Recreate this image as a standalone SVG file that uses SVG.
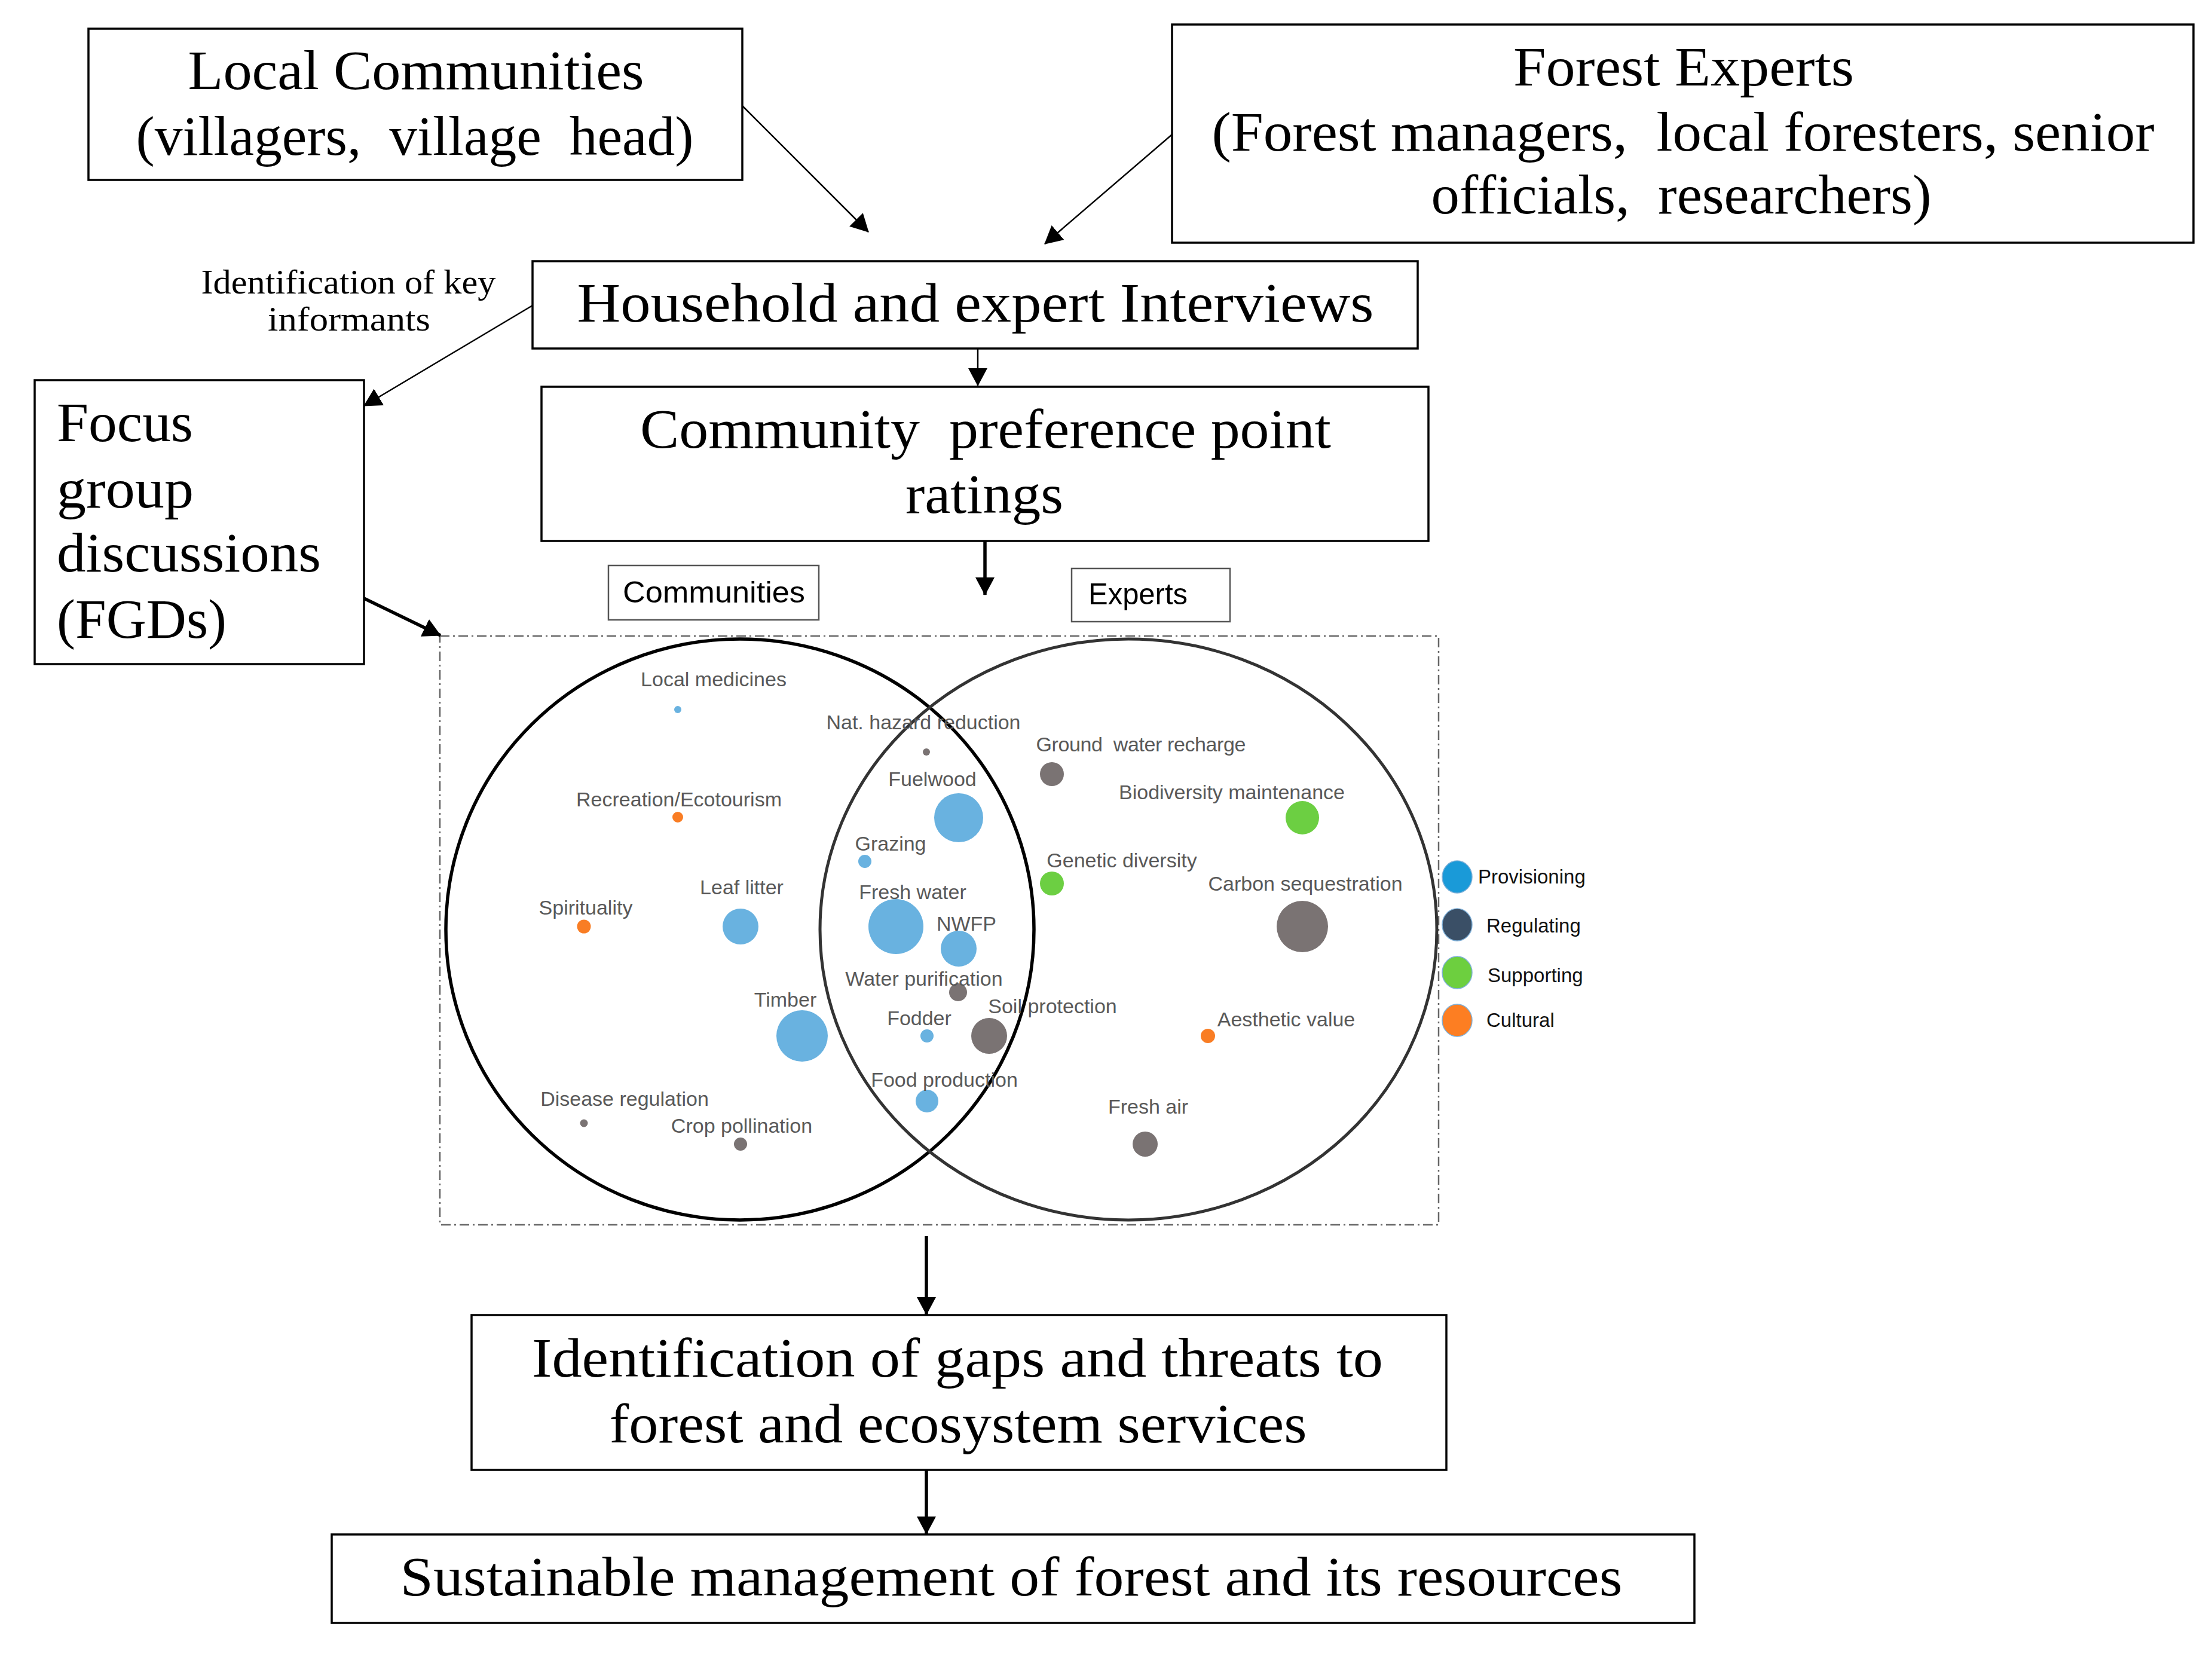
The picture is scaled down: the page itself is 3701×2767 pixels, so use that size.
<svg xmlns="http://www.w3.org/2000/svg" width="3701" height="2767" viewBox="0 0 3701 2767">
<defs>
<style>
.box{fill:#fff;stroke:#000;stroke-width:3.5}
.tag{fill:#fff;stroke:#555;stroke-width:2.5}
.t{font-family:"Liberation Serif",serif;font-size:94px;fill:#000;text-anchor:middle}
.tl{font-family:"Liberation Serif",serif;font-size:94px;fill:#000}
.ts{font-family:"Liberation Serif",serif;font-size:56px;fill:#000;text-anchor:middle}
.s{font-family:"Liberation Sans",Arial,sans-serif;font-size:50px;fill:#000}
.lb{font-family:"Liberation Sans",Arial,sans-serif;font-size:34px;fill:#595959;text-anchor:middle}
.lg{font-family:"Liberation Sans",Arial,sans-serif;font-size:33px;fill:#111}
.con{fill:none;stroke:#000;stroke-width:2.5}
.thick{fill:none;stroke:#000;stroke-width:5.5}
.blue{fill:#69b2e0}
.gray{fill:#7a7373}
.green{fill:#6ccf42}
.orange{fill:#f97d24}
</style>
<marker id="ah" viewBox="0 0 30 32" refX="29" refY="16" markerWidth="30" markerHeight="32" markerUnits="userSpaceOnUse" orient="auto">
<path d="M0,0 L30,16 L0,32 z" fill="#000"/>
</marker>
</defs>
<rect width="3701" height="2767" fill="#fff"/>

<g id="local-communities">
<rect class="box" x="148" y="48" width="1094" height="253"/>
<text class="t" x="696" y="149" textLength="763" lengthAdjust="spacingAndGlyphs">Local Communities</text>
<text class="t" x="694" y="259" textLength="933" lengthAdjust="spacingAndGlyphs">(villagers,&#160; village&#160; head)</text>
</g>

<g id="forest-experts">
<rect class="box" x="1961" y="41" width="1709" height="365"/>
<text class="t" x="2817" y="143" textLength="570" lengthAdjust="spacingAndGlyphs">Forest Experts</text>
<text class="t" x="2816" y="252" textLength="1577" lengthAdjust="spacingAndGlyphs">(Forest managers,&#160; local foresters, senior</text>
<text class="t" x="2813" y="357" textLength="837" lengthAdjust="spacingAndGlyphs">officials,&#160; researchers)</text>
</g>

<g id="household-interviews">
<rect class="box" x="891" y="437" width="1481" height="146"/>
<text class="t" x="1632" y="538" textLength="1333" lengthAdjust="spacingAndGlyphs">Household and expert Interviews</text>
</g>

<g id="key-informants-label">
<text class="ts" x="583" y="491" textLength="493" lengthAdjust="spacingAndGlyphs">Identification of key</text>
<text class="ts" x="584" y="553" textLength="272" lengthAdjust="spacingAndGlyphs">informants</text>
</g>

<g id="focus-groups">
<rect class="box" x="58" y="636" width="551" height="475"/>
<text class="tl" x="95" y="738" textLength="228" lengthAdjust="spacingAndGlyphs">Focus</text>
<text class="tl" x="95" y="849" textLength="229" lengthAdjust="spacingAndGlyphs">group</text>
<text class="tl" x="95" y="956" textLength="442" lengthAdjust="spacingAndGlyphs">discussions</text>
<text class="tl" x="95" y="1067" textLength="284" lengthAdjust="spacingAndGlyphs">(FGDs)</text>
</g>

<g id="community-preference">
<rect class="box" x="906" y="647" width="1484" height="258"/>
<text class="t" x="1649" y="749" textLength="1156" lengthAdjust="spacingAndGlyphs">Community&#160; preference point</text>
<text class="t" x="1647" y="858" textLength="264" lengthAdjust="spacingAndGlyphs">ratings</text>
</g>

<g id="communities-tag">
<rect class="tag" x="1018" y="946" width="352" height="91"/>
<text class="s" x="1042" y="1008" textLength="305" lengthAdjust="spacingAndGlyphs">Communities</text>
</g>

<g id="experts-tag">
<rect class="tag" x="1793" y="951" width="265" height="89"/>
<text class="s" x="1821" y="1011" textLength="166" lengthAdjust="spacingAndGlyphs">Experts</text>
</g>

<g id="venn">
<rect x="736" y="1064" width="1671" height="985" fill="none" stroke="#666" stroke-width="2.5" stroke-dasharray="16 6 3 6"/>
<ellipse cx="1238" cy="1555" rx="492" ry="486" fill="none" stroke="#000" stroke-width="5.5"/>
<ellipse cx="1888" cy="1555" rx="516" ry="486" fill="none" stroke="#333" stroke-width="5"/>
</g>

<g id="bubbles">
<g id="b-local-medicines"><circle class="blue" cx="1134" cy="1187" r="6"/><text class="lb" x="1194" y="1148">Local medicines</text></g>
<g id="b-nat-hazard"><circle class="gray" cx="1550" cy="1258" r="6"/><text class="lb" x="1545" y="1220">Nat. hazard reduction</text></g>
<g id="b-recreation"><circle class="orange" cx="1134" cy="1367" r="9"/><text class="lb" x="1136" y="1349">Recreation/Ecotourism</text></g>
<g id="b-fuelwood"><circle class="blue" cx="1604" cy="1368" r="41"/><text class="lb" x="1560" y="1315">Fuelwood</text></g>
<g id="b-grazing"><circle class="blue" cx="1447" cy="1441" r="11"/><text class="lb" x="1490" y="1423">Grazing</text></g>
<g id="b-leaf-litter"><circle class="blue" cx="1239" cy="1550" r="30"/><text class="lb" x="1241" y="1496">Leaf litter</text></g>
<g id="b-spirituality"><circle class="orange" cx="977" cy="1550" r="11.5"/><text class="lb" x="980" y="1530">Spirituality</text></g>
<g id="b-fresh-water"><circle class="blue" cx="1499" cy="1550" r="46"/><text class="lb" x="1527" y="1504">Fresh water</text></g>
<g id="b-nwfp"><circle class="blue" cx="1604" cy="1587" r="30"/><text class="lb" x="1617" y="1557">NWFP</text></g>
<g id="b-water-purification"><circle class="gray" cx="1603" cy="1660" r="15"/><text class="lb" x="1546" y="1649">Water purification</text></g>
<g id="b-timber"><circle class="blue" cx="1342" cy="1733" r="43"/><text class="lb" x="1314" y="1684">Timber</text></g>
<g id="b-fodder"><circle class="blue" cx="1551" cy="1733" r="11"/><text class="lb" x="1538" y="1715">Fodder</text></g>
<g id="b-soil-protection"><circle class="gray" cx="1655" cy="1733" r="30"/><text class="lb" x="1761" y="1695">Soil protection</text></g>
<g id="b-food-production"><circle class="blue" cx="1551" cy="1842" r="19"/><text class="lb" x="1580" y="1818">Food production</text></g>
<g id="b-disease-regulation"><circle class="gray" cx="977" cy="1879" r="6.5"/><text class="lb" x="1045" y="1850">Disease regulation</text></g>
<g id="b-crop-pollination"><circle class="gray" cx="1239" cy="1914" r="11"/><text class="lb" x="1241" y="1895">Crop pollination</text></g>
<g id="b-ground-water"><circle class="gray" cx="1760" cy="1295" r="20"/><text class="lb" x="1909" y="1257" textLength="351" lengthAdjust="spacing">Ground&#160; water recharge</text></g>
<g id="b-biodiversity"><circle class="green" cx="2179" cy="1368" r="28"/><text class="lb" x="2061" y="1337">Biodiversity maintenance</text></g>
<g id="b-genetic-diversity"><circle class="green" cx="1760" cy="1478" r="20"/><text class="lb" x="1877" y="1451">Genetic diversity</text></g>
<g id="b-carbon"><circle class="gray" cx="2179" cy="1550" r="43"/><text class="lb" x="2184" y="1490">Carbon sequestration</text></g>
<g id="b-aesthetic"><circle class="orange" cx="2021" cy="1733" r="12"/><text class="lb" x="2152" y="1717">Aesthetic value</text></g>
<g id="b-fresh-air"><circle class="gray" cx="1916" cy="1914" r="21"/><text class="lb" x="1921" y="1863">Fresh air</text></g>
</g>

<g id="legend">
<ellipse cx="2438" cy="1467" rx="25" ry="27" fill="#1a9ad8" stroke="#7fb0d8" stroke-width="1.5"/>
<text class="lg" x="2473" y="1478">Provisioning</text>
<ellipse cx="2438" cy="1547" rx="25" ry="27" fill="#3a4f66" stroke="#7fb0d8" stroke-width="1.5"/>
<text class="lg" x="2487" y="1560">Regulating</text>
<ellipse cx="2438" cy="1627" rx="25" ry="27" fill="#6dcf3f" stroke="#7fb0d8" stroke-width="1.5"/>
<text class="lg" x="2489" y="1643">Supporting</text>
<ellipse cx="2438" cy="1707" rx="25" ry="27" fill="#fd7e22" stroke="#7fb0d8" stroke-width="1.5"/>
<text class="lg" x="2487" y="1718">Cultural</text>
</g>

<g id="identification-gaps">
<rect class="box" x="789" y="2200" width="1631" height="259"/>
<text class="t" x="1602" y="2303" textLength="1424" lengthAdjust="spacingAndGlyphs">Identification of gaps and threats to</text>
<text class="t" x="1603" y="2413" textLength="1167" lengthAdjust="spacingAndGlyphs">forest and ecosystem services</text>
</g>

<g id="sustainable-management">
<rect class="box" x="555" y="2567" width="2280" height="148"/>
<text class="t" x="1692" y="2669" textLength="2045" lengthAdjust="spacingAndGlyphs">Sustainable management of forest and its resources</text>
</g>

<g id="connectors">
<line class="con" x1="1242" y1="177" x2="1453" y2="388" marker-end="url(#ah)"/>
<line class="con" x1="1961" y1="225" x2="1748" y2="408" marker-end="url(#ah)"/>
<line class="con" x1="891" y1="511" x2="609" y2="679" marker-end="url(#ah)"/>
<line class="con" x1="1636" y1="583" x2="1636" y2="645" marker-end="url(#ah)"/>
<line class="thick" x1="1648" y1="905" x2="1648" y2="995" marker-end="url(#ah)"/>
<line class="thick" x1="609" y1="1001" x2="737" y2="1063" marker-end="url(#ah)"/>
<line class="thick" x1="1550" y1="2068" x2="1550" y2="2199" marker-end="url(#ah)"/>
<line class="thick" x1="1550" y1="2459" x2="1550" y2="2566" marker-end="url(#ah)"/>
</g>
</svg>
